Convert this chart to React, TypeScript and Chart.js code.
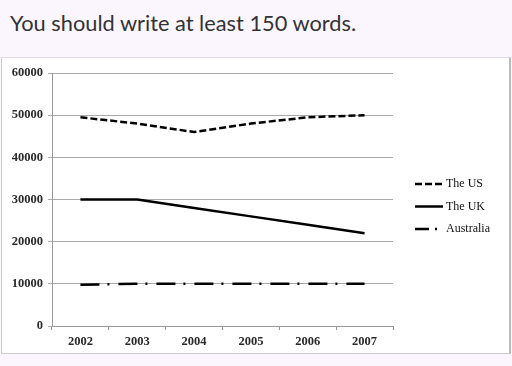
import React, { useEffect, useRef } from "react";
import { Chart, registerables } from "chart.js";

Chart.register(...registerables);

const years = ["2002", "2003", "2004", "2005", "2006", "2007"];
const usValues = [49500, 48000, 46000, 48000, 49500, 50000];
const ukValues = [30000, 30000, 28000, 26000, 24000, 22000];
const auValues = [9800, 10000, 10000, 10000, 10000, 10000];
const seriesLabels = ["The US", "The UK", "Australia"];

const FONT = "'Liberation Serif', 'DejaVu Serif', serif";

const legendPlugin = {
  id: "sideLegend",
  afterDraw(chart: any) {
    const ctx = chart.ctx;
    const area = chart.chartArea;
    const x0 = area.right + 22;
    const x1 = x0 + 28;
    const yStart = area.top + 111;
    const step = 22.5;
    chart.data.datasets.forEach((ds: any, i: number) => {
      const y = yStart + i * step;
      ctx.save();
      ctx.strokeStyle = "#000";
      ctx.lineWidth = 2.5;
      ctx.setLineDash(ds.legendDash || []);
      ctx.beginPath();
      ctx.moveTo(x0, y);
      ctx.lineTo(x1, y);
      ctx.stroke();
      ctx.setLineDash([]);
      ctx.fillStyle = "#111";
      ctx.font = `12px ${FONT}`;
      ctx.textBaseline = "middle";
      ctx.textAlign = "left";
      ctx.fillText(ds.label, x1 + 3, y);
      ctx.restore();
    });
  },
};

export default function App() {
  const canvasRef = useRef<HTMLCanvasElement | null>(null);

  useEffect(() => {
    document.body.style.margin = "0";
    const canvas = canvasRef.current;
    if (!canvas) return;
    const chart = new Chart(canvas, {
      type: "line",
      data: {
        labels: years,
        datasets: [
          {
            label: seriesLabels[0],
            data: usValues,
            borderColor: "#000",
            borderWidth: 2.5,
            borderDash: [7, 3],
            pointRadius: 0,
            tension: 0,
            legendDash: [7, 3],
          } as any,
          {
            label: seriesLabels[1],
            data: ukValues,
            borderColor: "#000",
            borderWidth: 2.5,
            pointRadius: 0,
            tension: 0,
            legendDash: [],
          } as any,
          {
            label: seriesLabels[2],
            data: auValues,
            borderColor: "#000",
            borderWidth: 2.5,
            borderDash: [19, 8, 2, 9],
            pointRadius: 0,
            tension: 0,
            legendDash: [14, 6, 2, 9],
          } as any,
        ],
      },
      options: {
        animation: false,
        responsive: false,
        maintainAspectRatio: false,
        layout: { padding: { top: 15, right: 116, bottom: 0, left: 0 } },
        plugins: {
          legend: { display: false },
          tooltip: { enabled: false },
        },
        scales: {
          x: {
            type: "category",
            offset: true,
            border: { display: true, color: "#999", width: 1 },
            grid: {
              display: true,
              offset: true,
              drawOnChartArea: false,
              drawTicks: true,
              tickLength: 4,
              color: "#999",
            },
            ticks: {
              color: "#2a2a2a",
              font: { family: FONT, size: 12.5, weight: "bold" },
              padding: 4,
              maxRotation: 0,
            },
            afterFit(scale: any) {
              scale.height = 27;
            },
          },
          y: {
            min: 0,
            max: 60000,
            border: { display: true, color: "#999", width: 1 },
            grid: {
              color: "#aaa",
              drawTicks: true,
              tickLength: 4,
            },
            ticks: {
              stepSize: 10000,
              color: "#2a2a2a",
              font: { family: FONT, size: 12.5, weight: "bold" },
              padding: 5,
              callback: (v: any) => String(v),
            },
            afterFit(scale: any) {
              scale.width = 50;
            },
          },
        },
      },
      plugins: [legendPlugin],
    });
    return () => chart.destroy();
  }, []);

  return (
    <div
      style={{
        position: "fixed",
        left: 0,
        top: 0,
        width: 512,
        height: 366,
        background: "#fbf6fd",
        overflow: "hidden",
      }}
    >
      <div
        style={{
          position: "absolute",
          left: 10,
          top: 10,
          fontFamily: "Lato, 'Open Sans', sans-serif",
          fontSize: 21.8,
          color: "#333",
          whiteSpace: "nowrap",
          lineHeight: "26px",
        }}
      >
        You should write at least 150 words.
      </div>
      <div
        style={{
          position: "absolute",
          left: 1,
          top: 57,
          width: 507,
          height: 295,
          background: "#fff",
          borderTop: "1px solid #e2e0e4",
          borderLeft: "1px solid #ccc",
          borderRight: "2px solid #bbb",
          borderBottom: "1px solid #ccc",
        }}
      >
        <canvas ref={canvasRef} width={507} height={295} style={{ display: "block" }} />
      </div>
    </div>
  );
}
